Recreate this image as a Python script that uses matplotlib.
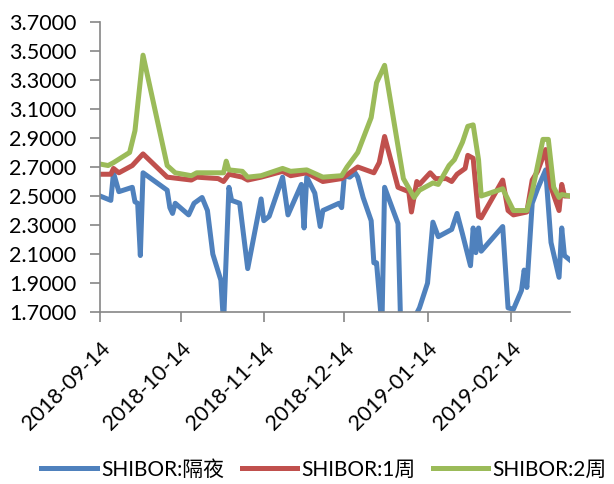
import matplotlib
matplotlib.use("Agg")
import matplotlib.pyplot as plt
import numpy as np

plt.rcParams['font.family'] = ['Lato', 'Noto Sans CJK SC', 'DejaVu Sans']

# SHIBOR:隔夜
on_dates = ["2018-09-14", "2018-09-18", "2018-09-19", "2018-09-21", "2018-09-26", "2018-09-27",
            "2018-09-28", "2018-09-29", "2018-09-30", "2018-10-09", "2018-10-10", "2018-10-11",
            "2018-10-12", "2018-10-17", "2018-10-19", "2018-10-22", "2018-10-24", "2018-10-26",
            "2018-10-29", "2018-10-30", "2018-11-01", "2018-11-02", "2018-11-05", "2018-11-08",
            "2018-11-13", "2018-11-14", "2018-11-16", "2018-11-21", "2018-11-23", "2018-11-28",
            "2018-11-29", "2018-11-30", "2018-12-03", "2018-12-05", "2018-12-06", "2018-12-12",
            "2018-12-13", "2018-12-14", "2018-12-16", "2018-12-18", "2018-12-19", "2018-12-21",
            "2018-12-24", "2018-12-25", "2018-12-26", "2018-12-28", "2018-12-29", "2019-01-03",
            "2019-01-04", "2019-01-08", "2019-01-11", "2019-01-14", "2019-01-16", "2019-01-18",
            "2019-01-23", "2019-01-25", "2019-01-27", "2019-01-30", "2019-01-31", "2019-02-01",
            "2019-02-02", "2019-02-03", "2019-02-11", "2019-02-13", "2019-02-15", "2019-02-18",
            "2019-02-19", "2019-02-20", "2019-02-22", "2019-02-24", "2019-02-27", "2019-03-01",
            "2019-03-04", "2019-03-05", "2019-03-06", "2019-03-08"]
on_vals = [2.50, 2.47, 2.66, 2.53, 2.56, 2.46,
           2.45, 2.09, 2.66, 2.54, 2.42, 2.38,
           2.45, 2.37, 2.45, 2.49, 2.40, 2.10,
           1.92, 1.62, 2.56, 2.47, 2.45, 2.00,
           2.48, 2.33, 2.36, 2.63, 2.37, 2.58,
           2.28, 2.63, 2.52, 2.29, 2.40, 2.45,
           2.42, 2.64, 2.63, 2.66, 2.63, 2.49,
           2.33, 2.04, 2.04, 1.60, 2.56, 2.31,
           1.60, 1.62, 1.73, 1.90, 2.32, 2.22,
           2.27, 2.38, 2.24, 2.02, 2.28, 2.11,
           2.28, 2.12, 2.29, 1.73, 1.72, 1.85,
           1.99, 1.87, 2.45, 2.55, 2.68, 2.18,
           1.94, 2.28, 2.09, 2.06]

# SHIBOR:1周
w1_dates = ["2018-09-14", "2018-09-18", "2018-09-19", "2018-09-21", "2018-09-26", "2018-09-30",
            "2018-10-09", "2018-10-18", "2018-10-20", "2018-10-28", "2018-10-30", "2018-11-01",
            "2018-11-06", "2018-11-08", "2018-11-13", "2018-11-21", "2018-11-24", "2018-11-30",
            "2018-12-06", "2018-12-13", "2018-12-19", "2018-12-25", "2018-12-27", "2018-12-29",
            "2019-01-03", "2019-01-07", "2019-01-08", "2019-01-10", "2019-01-11", "2019-01-15",
            "2019-01-17", "2019-01-21", "2019-01-23", "2019-01-25", "2019-01-28", "2019-01-29",
            "2019-01-31", "2019-02-02", "2019-02-03", "2019-02-11", "2019-02-13", "2019-02-15",
            "2019-02-20", "2019-02-22", "2019-02-24", "2019-02-27", "2019-03-01", "2019-03-04",
            "2019-03-05", "2019-03-06", "2019-03-08"]
w1_vals = [2.65, 2.65, 2.69, 2.66, 2.71, 2.79,
           2.63, 2.61, 2.63, 2.62, 2.60, 2.65,
           2.63, 2.61, 2.63, 2.67, 2.64, 2.66,
           2.60, 2.62, 2.70, 2.66, 2.73, 2.91,
           2.56, 2.53, 2.39, 2.60, 2.58, 2.66,
           2.62, 2.62, 2.60, 2.65, 2.69, 2.78,
           2.76, 2.36, 2.35, 2.61, 2.40, 2.37,
           2.39, 2.61, 2.67, 2.82, 2.56, 2.40,
           2.58, 2.50, 2.50]

# SHIBOR:2周
w2_dates = ["2018-09-14", "2018-09-17", "2018-09-19", "2018-09-25", "2018-09-27", "2018-09-30",
            "2018-10-09", "2018-10-12", "2018-10-18", "2018-10-20", "2018-10-30", "2018-10-31",
            "2018-11-01", "2018-11-06", "2018-11-08", "2018-11-13", "2018-11-21", "2018-11-24",
            "2018-11-30", "2018-12-06", "2018-12-13", "2018-12-15", "2018-12-19", "2018-12-24",
            "2018-12-26", "2018-12-29", "2019-01-05", "2019-01-09", "2019-01-11", "2019-01-16",
            "2019-01-18", "2019-01-22", "2019-01-24", "2019-01-27", "2019-01-29", "2019-01-31",
            "2019-02-02", "2019-02-03", "2019-02-11", "2019-02-15", "2019-02-20", "2019-02-22",
            "2019-02-26", "2019-02-28", "2019-03-02", "2019-03-04", "2019-03-05", "2019-03-08"]
w2_vals = [2.72, 2.71, 2.73, 2.80, 2.95, 3.47,
           2.71, 2.66, 2.64, 2.66, 2.66, 2.74,
           2.68, 2.67, 2.63, 2.64, 2.69, 2.67,
           2.68, 2.63, 2.64, 2.70, 2.80, 3.04,
           3.28, 3.40, 2.62, 2.49, 2.54, 2.59,
           2.58, 2.71, 2.75, 2.87, 2.98, 2.99,
           2.75, 2.50, 2.55, 2.40, 2.40, 2.53,
           2.89, 2.89, 2.56, 2.49, 2.51, 2.50]

tick_dates = ["2018-09-14", "2018-10-14", "2018-11-14", "2018-12-14", "2019-01-14", "2019-02-14"]
y_ticks = np.arange(1.7, 3.71, 0.2)

fig = plt.figure(figsize=(6.14, 4.84), dpi=100)
ax = fig.add_axes([0.163, 0.355, 0.765, 0.6])

lw = 3.6
ax.plot(np.array(on_dates, dtype='datetime64[D]'), on_vals, color='#4F81BD', lw=lw,
        solid_joinstyle='round', label='SHIBOR:隔夜')
ax.plot(np.array(w1_dates, dtype='datetime64[D]'), w1_vals, color='#C0504D', lw=lw,
        solid_joinstyle='round', label='SHIBOR:1周')
ax.plot(np.array(w2_dates, dtype='datetime64[D]'), w2_vals, color='#9BBB59', lw=lw,
        solid_joinstyle='round', label='SHIBOR:2周')

ax.set_ylim(1.7, 3.7)
ax.set_yticks(y_ticks)
ax.set_yticklabels([f"{v:.4f}" for v in y_ticks])
ax.set_xlim(np.datetime64("2018-09-14"), np.datetime64("2019-03-08"))
ax.set_xticks(np.array(tick_dates, dtype='datetime64[D]'))
ax.set_xticklabels(tick_dates, rotation=45, ha='right', rotation_mode='anchor')

for s in ['top', 'right']:
    ax.spines[s].set_visible(False)
for s in ['left', 'bottom']:
    ax.spines[s].set_color('#868686')
    ax.spines[s].set_linewidth(1.2)
ax.tick_params(axis='both', colors='#868686', labelcolor='black',
               length=7, width=1.2, direction='out')
ax.tick_params(axis='y', labelsize=15.5, pad=10)
ax.tick_params(axis='x', labelsize=15.5, pad=12)

fig.legend(loc='center left', bbox_to_anchor=(0.054, 0.03), ncol=3, frameon=False,
           fontsize=15, handlelength=2.65, handletextpad=0.2, columnspacing=0.85,
           borderaxespad=0)

fig.savefig("out.png", dpi=100)
